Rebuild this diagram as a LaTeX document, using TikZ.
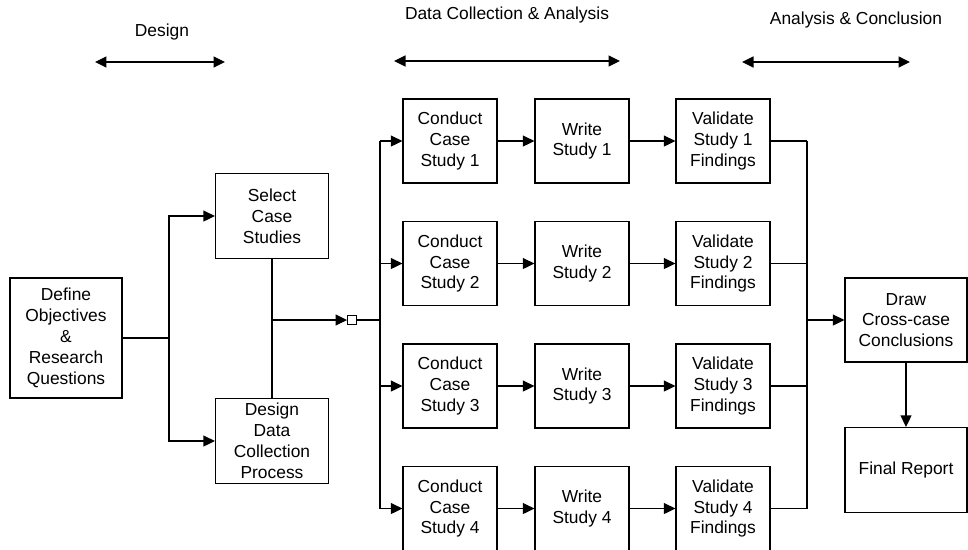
\documentclass[tikz,border=0pt]{standalone}
\usepackage{fontspec}
\setmainfont{Liberation Sans}
\usetikzlibrary{arrows.meta}

\begin{document}
\begin{tikzpicture}[x=0.02cm,y=-0.02cm,>={Triangle[length=2.3mm,width=2.2mm]},
		line width=0.75pt,font=\fontsize{9.9}{11.9}\selectfont,
		box/.style={draw,align=center,minimum width=1.88cm,minimum height=1.68cm,inner sep=1pt}]
	\useasboundingbox (0,0) rectangle (968,549);
	% phases along the top
	\node (design) at (162,32) {Design};
	\node (collect) at (507,15) {Data Collection \& Analysis};
	\node (concl) at (856,20) {Analysis \& Conclusion};
	\coordinate (d1) at (95,62); \coordinate (d2) at (225,62);
	\coordinate (c1) at (394,61); \coordinate (c2) at (620,61);
	\coordinate (a1) at (742,62); \coordinate (a2) at (910,62);
	\draw[<->] (d1)--(d2);
	\draw[<->] (c1)--(c2);
	\draw[<->] (a1)--(a2);
	% design stage
	\node[box,minimum width=2.24cm,minimum height=2.4cm] (define) at (66,338) {Define\\Objectives\\\&\\Research\\Questions};
	\node[box,minimum width=2.26cm,minimum height=1.7cm] (select) at (272,216) {Select\\Case\\Studies};
	\node[box,minimum width=2.26cm,minimum height=1.7cm] (dataproc) at (272,441) {Design\\Data\\Collection\\Process};
	\coordinate (fork) at (169,338);
	\draw (define)--(fork);
	\draw[->] (fork) |- (select);
	\draw[->] (fork) |- (dataproc);
	\draw (select)--(dataproc);
	\coordinate (mid) at (272,320);
	\node[draw,fill=white,minimum size=0.18cm,inner sep=0pt,line width=0.5pt] (gate) at (352,320) {};
	\coordinate (bus) at (380,320);
	\draw[->] (mid)--(gate);
	\draw (gate)--(bus);
	% the four case studies
	\foreach \i/\y in {1/141,2/263.5,3/386,4/508.5} {
		\node[box] (conduct\i) at (450,\y) {Conduct\\Case\\Study \i};
		\node[box] (write\i) at (582,\y) {Write\\Study \i};
		\node[box] (valid\i) at (723,\y) {Validate\\Study \i\\Findings};
		\draw[->] (bus|-conduct\i)--(conduct\i);
		\draw[->] (conduct\i)--(write\i);
		\draw[->] (write\i)--(valid\i);
		\draw (valid\i)--(807,\y);
	}
	\draw (bus|-conduct1)--(bus|-conduct4);
	% conclusion
	\coordinate (join) at (807,320);
	\node[box,minimum width=2.44cm] (cross) at (906,320) {Draw\\Cross-case\\Conclusions};
	\node[box,minimum width=2.44cm,minimum height=1.7cm] (final) at (906,470) {Final Report};
	\draw (join|-valid1)--(join|-valid4);
	\draw[->] (join)--(cross);
	\draw[->] (cross)--(final);
\end{tikzpicture}
\end{document}
